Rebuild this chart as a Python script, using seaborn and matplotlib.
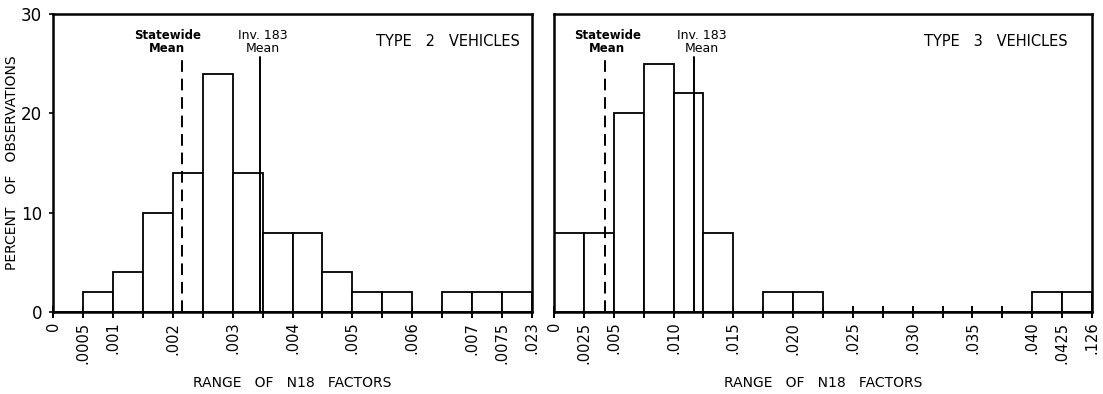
import numpy as np
import pandas as pd
import matplotlib
matplotlib.use("Agg")
import matplotlib.pyplot as plt
import seaborn as sns

# ---------------- data ----------------
# Type 2 vehicles: bin edges (ordinal axis) and percent of observations per bin
t2_edge_labels = ["0", ".0005", ".001", "", ".002", "", ".003", "", ".004", "",
                  ".005", "", ".006", "", ".007", ".0075", ".023"]
t2_percent = [0, 2, 4, 10, 14, 24, 14, 8, 8, 4, 2, 2, 0, 2, 2, 2]
t2_statewide_mean_pos = 4.31   # position in bin units
t2_inv183_mean_pos = 6.92

# Type 3 vehicles
t3_edge_labels = ["0", ".0025", ".005", "", ".010", "", ".015", "", ".020", "",
                  ".025", "", ".030", "", ".035", "", ".040", ".0425", ".126"]
t3_percent = [8, 8, 20, 25, 22, 8, 0, 2, 2, 0, 0, 0, 0, 0, 0, 0, 2, 2]
t3_statewide_mean_pos = 1.72
t3_inv183_mean_pos = 4.69

y_ticks = [0, 10, 20, 30]
mean_line_top = 25.7

# ---------------- style ----------------
sns.set_style("white", rc={"text.color": "black", "axes.labelcolor": "black",
                           "xtick.color": "black", "ytick.color": "black"})
plt.rcParams["font.family"] = ["DejaVu Sans"]

fig = plt.figure(figsize=(11.03, 3.94), dpi=100)
ax1 = fig.add_axes([53 / 1103, 1 - 312 / 394, 479 / 1103, 298 / 394])
ax2 = fig.add_axes([554 / 1103, 1 - 312 / 394, 538 / 1103, 298 / 394])


def draw_panel(ax, percent, edge_labels, sw_pos, inv_pos, sw_lab_x, inv_lab_x,
               title, title_x, show_y):
    n = len(percent)
    df = pd.DataFrame({"pos": np.arange(n) + 0.5, "pct": percent})
    sns.barplot(data=df, x="pos", y="pct", native_scale=True, width=1,
                color="white", edgecolor="black", linewidth=1.3, ax=ax)
    ax.set_xlim(0, n)
    ax.set_ylim(0, 30)
    ax.set_xticks(np.arange(n + 1))
    ax.set_xticklabels(edge_labels, rotation=90, fontsize=10.5)
    ax.tick_params(axis="x", direction="inout", length=8, width=1.4, pad=3,
                   bottom=True, colors="black")
    ax.set_yticks(y_ticks)
    if show_y:
        ax.set_yticklabels([str(v) for v in y_ticks], fontsize=12)
        ax.tick_params(axis="y", direction="out", length=3, width=1.2, pad=5,
                       left=True)
    else:
        ax.set_yticklabels([])
        ax.tick_params(axis="y", left=False)
    for s in ax.spines.values():
        s.set_visible(True)
        s.set_color("black")
        s.set_linewidth(1.8)

    # mean lines
    ax.plot([sw_pos, sw_pos], [0, mean_line_top], color="black", lw=1.4,
            ls=(0, (6, 3.5)))
    ax.plot([inv_pos, inv_pos], [0, mean_line_top], color="black", lw=1.4)
    ax.text(sw_lab_x, 27.2, "Statewide\nMean", ha="center", va="center",
            fontsize=8.5, fontweight="bold", linespacing=0.95)
    ax.text(inv_lab_x, 27.2, "Inv. 183\nMean", ha="center", va="center",
            fontsize=9, linespacing=0.95)
    ax.text(title_x, 27.2, title, ha="right", va="center", fontsize=10.5)

    ax.set_xlabel("RANGE   OF   N18   FACTORS", fontsize=10)
    ax.xaxis.set_label_coords(0.5, -0.238)
    ax.xaxis.label.set_va("center")
    ax.set_ylabel("")


draw_panel(ax1, t2_percent, t2_edge_labels, t2_statewide_mean_pos,
           t2_inv183_mean_pos, 3.82, 7.02, "TYPE   2   VEHICLES", 15.6, True)
draw_panel(ax2, t3_percent, t3_edge_labels, t3_statewide_mean_pos,
           t3_inv183_mean_pos, 1.78, 4.95, "TYPE   3   VEHICLES", 17.2, False)

ax1.set_ylabel("PERCENT   OF   OBSERVATIONS", fontsize=10)
ax1.yaxis.set_label_coords(-0.0856, 0.5)
ax1.yaxis.label.set_va("center")

fig.savefig("out.png", dpi=100, facecolor="white")
